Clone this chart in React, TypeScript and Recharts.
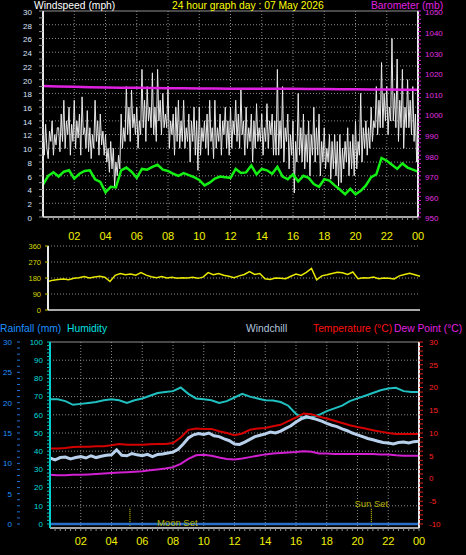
import { LineChart, Line, XAxis, YAxis, CartesianGrid, ReferenceLine } from 'recharts';

// wind speed (mph), every 5 minutes from 00:00 to 24:00
const gust = [
  12, 9, 13.5, 10, 8.5, 12.5, 11, 14, 9, 12, 10.5, 13,
  13, 9.5, 15, 11, 17, 10, 14, 12, 16, 9, 13.5, 11,
  17, 10, 14, 11.5, 15, 9, 17.5, 12, 13, 10, 15.5, 9.5,
  13, 8.5, 12, 10, 17, 11, 14, 9, 15, 10.5, 12.5, 9,
  12, 8, 10, 6.5, 11, 7, 10, 4.5, 8, 6, 9, 7,
  15, 10, 13, 11, 19, 12, 16, 11, 18.5, 13, 15, 12,
  16, 10, 14, 12, 21.5, 13, 17, 11, 19, 14, 16, 13,
  21, 12, 16, 11, 21.5, 14, 17, 12, 18, 13, 15, 13,
  19, 10, 14, 12, 15, 9, 16, 11, 17, 10, 14, 11,
  17, 10, 13, 11, 15, 8, 14, 11, 16, 9, 14, 6.8,
  16, 9, 13, 11, 14, 10, 15, 9, 17, 11, 13, 8.5,
  17, 10, 13, 11, 15, 9, 14, 12, 16, 10, 14, 9,
  16, 10, 14, 12, 17, 11, 15, 10, 18.5, 12, 14, 9,
  16, 10, 13, 11, 15, 8, 14, 10, 16.5, 11, 13, 11,
  15, 9, 13, 11, 16.5, 10, 14, 12, 15, 9, 14, 9,
  21.5, 9, 14, 10, 19, 8, 13, 11, 15, 7, 12, 9,
  14, 3.5, 11, 8, 18, 9, 13, 8, 15, 7, 12, 8,
  14, 6, 12, 9, 16, 8, 13, 9, 15, 6, 11, 8,
  13, 7, 10, 8, 12, 5.5, 11, 7, 12, 6, 11, 4.5,
  12, 5, 10, 7, 11, 8, 13, 6, 11, 7, 12, 6,
  14, 7, 11, 9, 18, 8, 13, 10, 14, 9, 13, 10,
  16, 11, 14, 13, 19, 12, 17, 13, 22.5, 13, 18, 14,
  19, 12, 16, 14, 26, 14, 18, 13, 23, 11, 17, 13,
  21.5, 10, 16, 13, 20, 13, 17, 12, 19, 11, 15, 8,
  12,
];

// average wind speed (mph), every 20 minutes
const avgSpeed = [
  4.7, 6.0, 6.5, 5.9, 6.6, 6.8, 5.6, 6.3, 6.7, 6.8, 5.5, 5.1,
  3.6, 4.4, 4.3, 6.8, 7.2, 6.6, 5.7, 7.0, 6.9, 7.3, 7.6, 6.9,
  6.7, 6.3, 6.0, 6.4, 6.1, 5.8, 5.4, 4.6, 5.0, 5.6, 5.9, 5.8,
  5.7, 7.0, 6.4, 6.5, 7.5, 6.2, 7.0, 6.8, 6.3, 7.3, 5.9, 5.5,
  6.2, 5.2, 6.0, 5.7, 4.8, 4.4, 5.5, 5.3, 4.6, 4.0, 3.3, 4.1,
  3.3, 3.8, 4.6, 5.8, 6.2, 8.6, 8.2, 7.6, 7.0, 7.8, 7.2, 6.9,
  6.6,
];

// barometer (mb), hourly
const baro = [
  1013.6, 1013.4, 1013.2, 1013.0, 1012.9, 1012.8, 1012.7, 1012.6, 1012.5,
  1012.5, 1012.4, 1012.4, 1012.3, 1012.3, 1012.2, 1012.2, 1012.2, 1012.1,
  1012.1, 1012.0, 1012.0, 1011.9, 1011.9, 1011.8, 1011.8,
];

// wind direction (degrees), every 20 minutes
const windDir = [
  160, 168, 172, 175, 170, 178, 182, 188, 180, 186, 190, 184,
  160, 195, 205, 198, 202, 196, 210, 196, 187, 182, 188, 180,
  184, 178, 182, 180, 184, 178, 185, 210, 198, 205, 196, 190,
  182, 192, 200, 216, 200, 205, 176, 172, 180, 178, 176, 190,
  202, 194, 212, 234, 170, 192, 198, 205, 212, 210, 200, 214,
  176, 182, 180, 186, 176, 180, 178, 175, 192, 200, 206, 198,
  190,
];

// rainfall, hourly
const rain = [
  0, 0, 0, 0, 0, 0, 0, 0, 0, 0, 0, 0, 0, 0, 0, 0, 0, 0, 0, 0, 0, 0, 0, 0, 0,
];

// half-hourly readings
const humidity = [
  68.5, 68.5, 67.5, 65.5, 66, 66.5, 67, 68, 68.5, 68, 66.5, 68, 69, 70.5, 72,
  72.5, 73, 75, 71.5, 69, 68.5, 68, 66.5, 67.5, 69.5, 71.5, 70, 69, 68, 67.8,
  67, 65, 60.5, 58, 58.5, 60, 62, 63.5, 65, 67.5, 69, 70.5, 72, 73.5, 74.5,
  74.8, 73, 72.5, 72.5,
];
const temperature = [
  6.6, 6.6, 6.7, 6.9, 7.0, 7.0, 7.1, 7.1, 7.3, 7.6, 7.4, 7.4, 7.4, 7.5, 7.6,
  7.6, 7.8, 9.0, 10.7, 11.0, 10.9, 10.9, 10.4, 10.0, 9.5, 9.9, 10.7, 11.0,
  11.1, 11.5, 11.8, 12.6, 13.4, 14.3, 14.1, 13.6, 13.2, 12.7, 12.2, 11.7,
  11.3, 11.0, 10.6, 10.3, 10.0, 9.8, 9.8, 9.8, 9.8,
];
const dewPoint = [
  0.8, 0.7, 0.7, 0.8, 0.8, 0.9, 1.0, 1.1, 1.2, 1.3, 1.4, 1.5, 1.6, 1.8, 2.0,
  2.2, 2.5, 3.2, 4.3, 5.1, 5.2, 5.0, 4.6, 4.3, 4.2, 4.4, 4.7, 5.0, 5.3, 5.5,
  5.6, 5.7, 5.8, 6.0, 5.9, 5.5, 5.5, 5.4, 5.4, 5.4, 5.4, 5.4, 5.4, 5.3, 5.3,
  5.1, 5.0, 5.0, 5.0,
];

// windchill, every 20 minutes
const windchill = [
  4.5, 4.1, 4.6, 4.7, 4.3, 4.6, 4.8, 4.5, 5.0, 4.6, 4.9, 5.1,
  5.2, 6.3, 5.1, 5.0, 5.5, 5.2, 5.0, 5.3, 4.8, 5.3, 5.4, 5.6,
  5.8, 6.4, 7.6, 8.9, 9.6, 9.9, 9.7, 10.0, 9.4, 9.2, 8.7, 8.3,
  7.6, 7.5, 8.0, 8.6, 9.2, 9.5, 9.8, 10.2, 10.0, 10.4, 11.0, 11.6,
  12.4, 13.1, 13.6, 13.3, 13.0, 12.6, 12.1, 11.7, 11.4, 10.9, 10.5, 10.0,
  9.6, 9.2, 8.8, 8.5, 8.2, 7.9, 7.8, 7.6, 7.9, 8.0, 7.8, 8.1,
  8.2,
];

const gridHours = [2, 4, 6, 8, 10, 12, 14, 16, 18, 20, 22];
const compass = ['N', 'E', 'S', 'W', 'N'];
const dirTicks = [0, 90, 180, 270, 360];
const sunSet = 20.9;
const moonSet = 5.2;

const FONT = '"Liberation Sans", Arial, sans-serif';

// spread n readings evenly over the 24 hours
const series = (vals: number[]) =>
  vals.map((v, i) => ({ t: (i * 24) / (vals.length - 1), v }));

const range = (from: number, to: number, step: number) =>
  Array.from({ length: Math.round((to - from) / step) + 1 }, (_, i) => from + i * step);

const minorHours = range(1, 72, 1).map((k) => k / 3);
const hourLabel = (t: number) => {
  const k = Math.round(t * 3);
  return k % 6 === 0 ? String((k / 3) % 24).padStart(2, '0') : '';
};

const every = (n: number) => (v: number) => (Math.round(v) % n === 0 ? String(v) : '');

const grid = { stroke: '#8a8a8a', strokeDasharray: '1 2' };

function TopChart() {
  return (
    <LineChart width={466} height={245} margin={{ top: 11, right: 0, bottom: 0, left: 0 }}>
      <CartesianGrid
        yAxisId="spd"
        {...grid}
        horizontalValues={range(2, 28, 2)}
        verticalValues={gridHours}
      />
      <XAxis
        type="number"
        dataKey="t"
        domain={[0, 24]}
        ticks={minorHours}
        interval={0}
        tickFormatter={hourLabel}
        height={28}
        axisLine={{ stroke: '#a8a8a8', strokeWidth: 2 }}
        tickLine={{ stroke: '#909090' }}
        tickSize={3}
        tickMargin={12}
        tick={{ fill: '#f0f000', fontSize: 11, fontFamily: FONT }}
      />
      <YAxis
        yAxisId="spd"
        domain={[0, 30]}
        ticks={range(0, 30, 1)}
        interval={0}
        tickFormatter={every(2)}
        width={43}
        axisLine={{ stroke: '#e8e8e8', strokeWidth: 2 }}
        tickLine={{ stroke: '#8c8c8c' }}
        tickSize={4}
        tickMargin={7}
        tick={{ fill: '#d8e4ff', fontSize: 8, fontFamily: FONT, dy: 1 }}
      />
      <YAxis
        yAxisId="baro"
        orientation="right"
        domain={[950, 1050]}
        ticks={range(950, 1050, 2)}
        interval={0}
        tickFormatter={every(10)}
        width={48}
        axisLine={{ stroke: '#e8e8e8', strokeWidth: 2 }}
        tickLine={{ stroke: '#d020d0' }}
        tickSize={3}
        tickMargin={4}
        tick={{ fill: '#e030e0', fontSize: 8, fontFamily: FONT, dy: 1.5 }}
      />
      <ReferenceLine yAxisId="spd" y={30} stroke="#909090" />
      <Line
        yAxisId="spd"
        data={series(gust)}
        dataKey="v"
        stroke="#e8e8e8"
        strokeWidth={1}
        dot={false}
        isAnimationActive={false}
      />
      <Line
        yAxisId="spd"
        data={series(avgSpeed)}
        dataKey="v"
        stroke="#14f014"
        strokeWidth={2.5}
        dot={false}
        isAnimationActive={false}
      />
      <Line
        yAxisId="baro"
        data={series(baro)}
        dataKey="v"
        stroke="#e020e0"
        strokeWidth={2.5}
        dot={false}
        isAnimationActive={false}
      />
    </LineChart>
  );
}

function DirectionChart() {
  return (
    <LineChart width={466} height={80} margin={{ top: 10, right: 0, bottom: 6, left: 0 }}>
      <CartesianGrid
        yAxisId="deg"
        {...grid}
        vertical={false}
        horizontalValues={[90, 180, 270, 360]}
      />
      <XAxis type="number" dataKey="t" domain={[0, 24]} hide />
      <YAxis
        yAxisId="deg"
        domain={[0, 360]}
        ticks={dirTicks}
        interval={0}
        width={48}
        axisLine={{ stroke: '#e8e8e8', strokeWidth: 2 }}
        tickLine={{ stroke: '#c8c800' }}
        tickSize={3}
        tickMargin={4}
        tick={{ fill: '#d8d800', fontSize: 7.5, fontFamily: FONT }}
      />
      <YAxis
        yAxisId="compass"
        orientation="right"
        domain={[0, 360]}
        ticks={dirTicks}
        interval={0}
        tickFormatter={(v: number) => compass[dirTicks.indexOf(v)]}
        width={46}
        axisLine={false}
        tickLine={false}
        tickSize={6}
        tickMargin={9}
        tick={{ fill: '#f0f000', fontSize: 12, fontFamily: FONT }}
      />
      <ReferenceLine yAxisId="deg" y={0} stroke="#a8a8a8" strokeWidth={2} />
      <Line
        yAxisId="deg"
        data={series(windDir)}
        dataKey="v"
        stroke="#e8e800"
        strokeWidth={1.5}
        dot={false}
        isAnimationActive={false}
      />
    </LineChart>
  );
}

function TempChart() {
  return (
    <LineChart width={466} height={225} margin={{ top: 12, right: 0, bottom: 0, left: 0 }}>
      <CartesianGrid
        yAxisId="hum"
        {...grid}
        horizontalValues={range(10, 90, 10)}
        verticalValues={gridHours}
      />
      <XAxis
        type="number"
        dataKey="t"
        domain={[0, 24]}
        ticks={minorHours}
        interval={0}
        tickFormatter={hourLabel}
        height={27}
        axisLine={{ stroke: '#a8a8a8', strokeWidth: 2 }}
        tickLine={{ stroke: '#909090' }}
        tickSize={3}
        tickMargin={6}
        tick={{ fill: '#f0f000', fontSize: 11, fontFamily: FONT }}
      />
      <YAxis
        yAxisId="rain"
        domain={[-0.66, 30]}
        ticks={range(0, 30, 1)}
        interval={0}
        tickFormatter={every(5)}
        width={20}
        axisLine={false}
        tickLine={{ stroke: '#1e70d8' }}
        tickSize={3}
        tickMargin={5}
        tick={{ fill: '#1e90ff', fontSize: 8, fontFamily: FONT }}
      />
      <YAxis
        yAxisId="hum"
        domain={[-2.2, 100]}
        ticks={range(0, 100, 2)}
        interval={0}
        tickFormatter={every(10)}
        width={30}
        axisLine={{ stroke: '#00d0d0', strokeWidth: 2 }}
        tickLine={{ stroke: '#00c0c0' }}
        tickSize={3}
        tickMargin={4}
        tick={{ fill: '#00dcdc', fontSize: 8, fontFamily: FONT }}
      />
      <YAxis
        yAxisId="temp"
        orientation="right"
        domain={[-10.88, 30]}
        ticks={range(-10, 30, 1)}
        interval={0}
        tickFormatter={every(5)}
        width={47}
        axisLine={{ stroke: '#e8e8e8', strokeWidth: 2 }}
        tickLine={{ stroke: '#e02020' }}
        tickSize={4}
        tickMargin={6}
        tick={{ fill: '#ff2020', fontSize: 8, fontFamily: FONT }}
      />
      <ReferenceLine yAxisId="temp" y={30} stroke="#909090" />
      <ReferenceLine yAxisId="temp" x={0} stroke="#c8c8c8" strokeWidth={2} />
      <ReferenceLine
        yAxisId="temp"
        segment={[{ x: moonSet, y: -10.4 }, { x: moonSet, y: -6.4 }]}
        stroke="#e8e800"
        strokeDasharray="1 1"
        label={{
          value: 'Moon Set',
          position: 'insideBottomLeft',
          offset: 0,
          dx: 27,
          fill: '#b4b000',
          fontSize: 9.5,
          fontFamily: FONT,
        }}
      />
      <ReferenceLine
        yAxisId="temp"
        segment={[{ x: sunSet, y: -10.4 }, { x: sunSet, y: -6.4 }]}
        stroke="#e8e800"
        strokeDasharray="1 1"
        label={{
          value: 'Sun Set',
          position: 'top',
          offset: 1,
          fill: '#b4b000',
          fontSize: 9.5,
          fontFamily: FONT,
        }}
      />
      <Line
        yAxisId="rain"
        data={series(rain)}
        dataKey="v"
        stroke="#2a70c8"
        strokeWidth={2.5}
        dot={false}
        isAnimationActive={false}
      />
      <Line
        yAxisId="hum"
        data={series(humidity)}
        dataKey="v"
        stroke="#20c0c0"
        strokeWidth={2}
        dot={false}
        isAnimationActive={false}
      />
      <Line
        yAxisId="temp"
        data={series(dewPoint)}
        dataKey="v"
        stroke="#d020d0"
        strokeWidth={2}
        dot={false}
        isAnimationActive={false}
      />
      <Line
        yAxisId="temp"
        data={series(windchill)}
        dataKey="v"
        stroke="#b8d0ec"
        strokeWidth={3}
        dot={false}
        isAnimationActive={false}
      />
      <Line
        yAxisId="temp"
        data={series(temperature)}
        dataKey="v"
        stroke="#d40000"
        strokeWidth={2}
        dot={false}
        isAnimationActive={false}
      />
    </LineChart>
  );
}

const title = (left: number, top: number, color: string) => ({
  position: 'absolute' as const,
  left,
  top,
  color,
  fontSize: 10.3,
  lineHeight: '9px',
  whiteSpace: 'nowrap' as const,
});

export default function App() {
  return (
    <div
      style={{
        position: 'absolute',
        left: 0,
        top: 0,
        width: 466,
        height: 555,
        background: '#000',
        overflow: 'hidden',
        fontFamily: FONT,
      }}
    >
      <div style={{ position: 'absolute', left: 0, top: 0 }}>
        <TopChart />
      </div>
      <div style={{ position: 'absolute', left: 0, top: 236 }}>
        <DirectionChart />
      </div>
      <div style={{ position: 'absolute', left: 0, top: 330 }}>
        <TempChart />
      </div>
      <span style={title(34, 1, '#ffffff')}>Windspeed (mph)</span>
      <span style={title(172, 1, '#ffff00')}>24 hour graph day : 07 May 2026</span>
      <span style={title(371, 1, '#e020e0')}>Barometer (mb)</span>
      <span style={title(0, 323.5, '#1e90ff')}>Rainfall (mm)</span>
      <span style={title(67, 323.5, '#00e0e0')}>Humidity</span>
      <span style={title(246, 323.5, '#b0c4de')}>Windchill</span>
      <span style={title(313, 323.5, '#ff1010')}>Temperature (°C)</span>
      <span style={title(394, 323.5, '#e020e0')}>Dew Point (°C)</span>
    </div>
  );
}
